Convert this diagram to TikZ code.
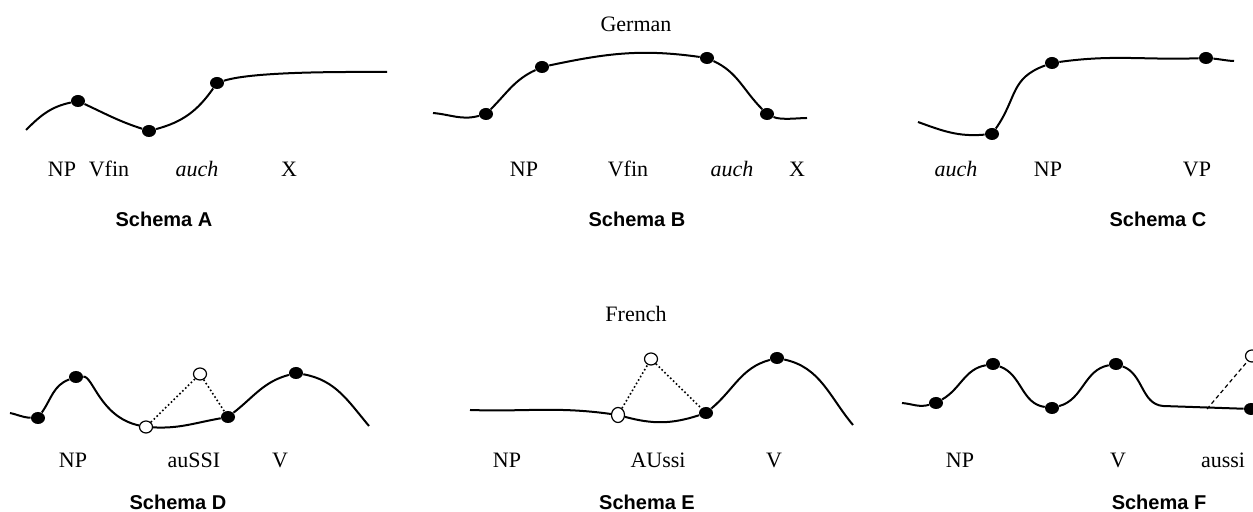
\documentclass[tikz,border=0pt]{standalone}
\usepackage{fontspec}
\setmainfont{Liberation Serif}
\setsansfont{Liberation Sans}
\usetikzlibrary{shapes.geometric}

\tikzset{
  contour/.style={line width=1pt},
  blackdot/.style={ellipse, fill=black, inner sep=0pt, minimum width=7pt, minimum height=6pt},
  whitedot/.style={ellipse, draw, fill=white, line width=0.6pt, inner sep=0pt, minimum width=6.5pt, minimum height=6pt},
  word/.style={anchor=base, font=\fontsize{11}{13}\selectfont},
  schemaname/.style={anchor=base, font=\fontsize{10}{12}\selectfont\sffamily\bfseries},
  dotline/.style={line width=0.8pt, dash pattern=on 0.8pt off 1.2pt},
  dashline/.style={line width=0.6pt, dash pattern=on 2pt off 1.5pt}
}

\begin{document}
\begin{tikzpicture}[x=0.5pt, y=0.5pt]
      \useasboundingbox (0,0) rectangle (1253,512);

      \node at (636,480) [word] (german) {German};
      \node at (636,190) [word] (french) {French};

      \coordinate (A0) at (26,382);
      \node at (78,411)  [blackdot] (A1) {};
      \node at (149,381) [blackdot] (A2) {};
      \node at (217,429) [blackdot] (A3) {};
      \coordinate (A4) at (387,440);
      \draw[contour] (A0) to[out=45,in=192] (A1) to[out=-25,in=162] (A2)
                     to[out=15,in=235] (A3) to[out=18,in=180,looseness=0.5] (A4);
      \node at (62,335)  [word] (npA)   {NP};
      \node at (109,335) [word] (vfinA) {Vfin};
      \node at (197,335) [word] (auchA) {\itshape auch};
      \node at (289,335) [word] (xA)    {X};
      \node at (164,285) [schemaname] (schemaA) {Schema A};

      \coordinate (B0) at (433,399);
      \node at (486,398) [blackdot] (B1) {};
      \node at (542,445) [blackdot] (B2) {};
      \node at (707,454) [blackdot] (B3) {};
      \node at (767,398) [blackdot] (B4) {};
      \coordinate (B5) at (807,394);
      \draw[contour] (B0) to[out=-5,in=195] (B1) to[out=45,in=205] (B2)
                     to[out=12,in=172] (B3) to[out=-25,in=135] (B4)
                     to[out=-25,in=180,looseness=0.6] (B5);
      \node at (524,335) [word] (npB)   {NP};
      \node at (628,335) [word] (vfinB) {Vfin};
      \node at (732,335) [word] (auchB) {\itshape auch};
      \node at (797,335) [word] (xB)    {X};
      \node at (637,285) [schemaname] (schemaB) {Schema B};

      \coordinate (C0) at (918,390);
      \node at (992,378)  [blackdot] (C1) {};
      \node at (1052,449) [blackdot] (C2) {};
      \node at (1206,454) [blackdot] (C3) {};
      \coordinate (C4) at (1234,451);
      \draw[contour] (C0) to[out=-20,in=185] (C1) to[out=55,in=200,looseness=1.2] (C2)
                     to[out=8,in=182] (C3) to[out=-5,in=178] (C4);
      \node at (956,335)  [word] (auchC) {\itshape auch};
      \node at (1048,335) [word] (npC)   {NP};
      \node at (1197,335) [word] (vpC)   {VP};
      \node at (1158,285) [schemaname] (schemaC) {Schema C};

      \coordinate (D0) at (10,99);
      \node at (38,94)   [blackdot] (D1) {};
      \node at (76,135)  [blackdot] (D2) {};
      \node at (146,85)  [whitedot] (D3) {};
      \node at (228,95)  [blackdot] (D4) {};
      \node at (296,139) [blackdot] (D5) {};
      \node at (200,138) [whitedot] (DT) {};
      \coordinate (D6) at (369,86);
      \draw[contour] (D0) to[out=-12,in=178] (D1) to[out=55,in=200] (D2)
                     .. controls (93,136) and (100,95) .. (D3)
                     to[out=-3,in=190] (D4) to[out=38,in=195] (D5) to[out=-10,in=130] (D6);
      \draw[dotline] (D3) -- (DT) -- (D4);
      \node at (73,44)  [word] (npD)    {NP};
      \node at (194,44) [word] (aussiD) {auSSI};
      \node at (280,44) [word] (vD)     {V};
      \node at (178,2)  [schemaname] (schemaD) {Schema D};

      \coordinate (E0) at (470,102);
      \node at (618,97)  [whitedot, minimum height=7.5pt] (EO) {};
      \node at (706,99)  [blackdot] (E1) {};
      \node at (777,154) [blackdot] (E2) {};
      \node at (651,153) [whitedot] (ET) {};
      \coordinate (E3) at (853,87);
      \draw[contour] (E0) to[out=-2,in=172] (EO) to[out=-15,in=198] (E1)
                     to[out=40,in=195] (E2) to[out=-12,in=130] (E3);
      \draw[dotline] (EO) -- (ET) -- (E1);
      \node at (507,44) [word] (npE)    {NP};
      \node at (658,44) [word] (aussiE) {AUssi};
      \node at (774,44) [word] (vE)     {V};
      \node at (647,2)  [schemaname] (schemaE) {Schema E};

      \coordinate (F0) at (902,109);
      \node at (936,109)  [blackdot] (F1) {};
      \node at (993,148)  [blackdot] (F2) {};
      \node at (1052,104) [blackdot] (F3) {};
      \node at (1116,148) [blackdot] (F4) {};
      \coordinate (FM) at (1163,106);
      \node at (1251,103) [blackdot] (F5) {};
      \node at (1252,156) [whitedot] (FO) {};
      \coordinate (FX) at (1207,103);
      \draw[contour] (F0) to[out=-5,in=195] (F1) to[out=30,in=190] (F2)
                     to[out=-20,in=172] (F3) to[out=15,in=190] (F4)
                     to[out=-20,in=175] (FM) -- (F5);
      \draw[dashline] (FX) -- (FO);
      \node at (960,44)  [word] (npF)    {NP};
      \node at (1118,44) [word] (vF)     {V};
      \node at (1223,44) [word] (aussiF) {aussi};
      \node at (1159,2)  [schemaname] (schemaF) {Schema F};
\end{tikzpicture}
\end{document}
